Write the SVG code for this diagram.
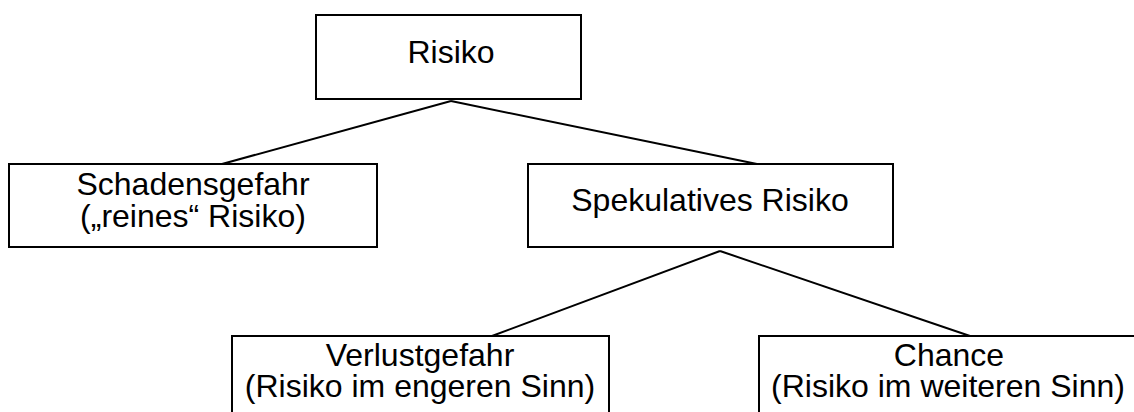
<svg xmlns="http://www.w3.org/2000/svg" width="1134" height="412" viewBox="0 0 1134 412">
<style>
.box{fill:#fff;stroke:#000;stroke-width:2}
.edge{stroke:#000;stroke-width:2;fill:none}
text{font-family:"Liberation Sans",Arial,sans-serif;font-size:32px;fill:#000;text-anchor:middle}
</style>
<rect width="1134" height="412" fill="#fff"/>
<g id="connectors">
<line class="edge" x1="451" y1="101" x2="222" y2="164"/>
<line class="edge" x1="451" y1="101" x2="757" y2="164"/>
<line class="edge" x1="720" y1="251" x2="492" y2="336"/>
<line class="edge" x1="720" y1="251" x2="970" y2="336"/>
</g>
<g id="risiko">
<rect class="box" x="316" y="15" width="265" height="84"/>
<text x="451" y="63">Risiko</text>
</g>
<g id="schadensgefahr">
<rect class="box" x="9" y="164" width="368" height="83"/>
<text x="193" y="195">Schadensgefahr</text>
<text x="193" y="227">(„reines“ Risiko)</text>
</g>
<g id="spekulatives">
<rect class="box" x="528" y="164" width="365" height="83"/>
<text x="710" y="211">Spekulatives Risiko</text>
</g>
<g id="verlustgefahr">
<rect class="box" x="232" y="336" width="377" height="100"/>
<text x="420" y="366">Verlustgefahr</text>
<text x="420" y="397">(Risiko im engeren Sinn)</text>
</g>
<g id="chance">
<rect class="box" x="759" y="336" width="400" height="100"/>
<text x="949" y="366">Chance</text>
<text x="948" y="397">(Risiko im weiteren Sinn)</text>
</g>
</svg>
